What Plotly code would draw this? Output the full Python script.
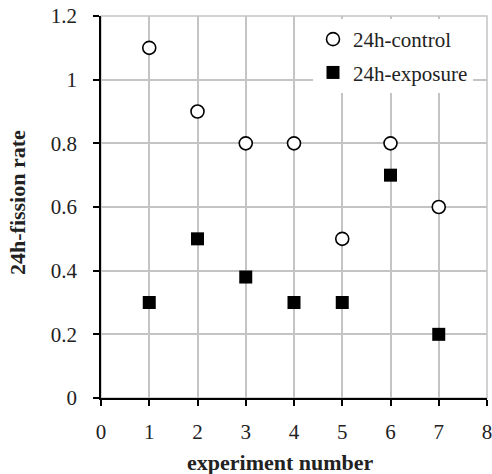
import plotly.graph_objects as go

experiments = [1, 2, 3, 4, 5, 6, 7]
control = [1.1, 0.9, 0.8, 0.8, 0.5, 0.8, 0.6]
exposure = [0.3, 0.5, 0.38, 0.3, 0.3, 0.7, 0.2]
x_ticks = [0, 1, 2, 3, 4, 5, 6, 7, 8]
y_ticks = [0, 0.2, 0.4, 0.6, 0.8, 1.0, 1.2]
y_tick_labels = ["0", "0.2", "0.4", "0.6", "0.8", "1", "1.2"]

FONT = "Liberation Serif, Times New Roman, serif"
GRID = "#c4c4c4"
TXT = "#222222"

L, R, T, B = 101, 5, 16, 76
W, H = 492, 474
PW = W - L - R
PH = H - T - B

fig = go.Figure()
fig.add_trace(go.Scatter(
    x=experiments, y=control, mode="markers", name="24h-control",
    legendgroup="a",
    marker=dict(symbol="circle", size=13, color="white",
                line=dict(color="black", width=1.6)),
))
fig.add_trace(go.Scatter(
    x=experiments, y=exposure, mode="markers", name="24h-exposure",
    legendgroup="b",
    marker=dict(symbol="square", size=13, color="black",
                line=dict(color="black", width=0)),
))

fig.add_shape(type="rect", xref="paper", yref="paper", x0=0, y0=0, x1=1, y1=1,
              line=dict(color=GRID, width=1.5), layer="below")

fig.add_annotation(text="<b>experiment number</b>", xref="paper", yref="paper",
                   x=(280 - L) / PW, y=(-(462 - (H - B))) / PH, xanchor="center", yanchor="middle",
                   showarrow=False, font=dict(family=FONT, size=22, color=TXT))
fig.add_annotation(text="<b>24h-fission rate</b>", xref="paper", yref="paper",
                   x=(17 - L) / PW, y=1 - (203 - T) / PH, xanchor="center", yanchor="middle",
                   textangle=-90, showarrow=False,
                   font=dict(family=FONT, size=22, color=TXT))

fig.update_layout(
    width=W, height=H,
    margin=dict(l=L, r=R, t=T, b=B, autoexpand=False),
    paper_bgcolor="white", plot_bgcolor="white",
    font=dict(family=FONT, size=21, color=TXT),
    showlegend=True,
    legend=dict(x=(313 - L) / PW, y=1 - 3 / PH, xanchor="left", yanchor="top",
                bgcolor="white", borderwidth=0,
                font=dict(family=FONT, size=21, color=TXT),
                tracegroupgap=3, itemwidth=30),
    xaxis=dict(range=[0, 8], tickvals=x_ticks, ticktext=[str(v) for v in x_ticks],
               showgrid=True, gridcolor=GRID, gridwidth=1.5, automargin=False,
               showline=True, linecolor="black", linewidth=1.5,
               ticks="outside", ticklen=6, tickcolor="black", tickwidth=1.5,
               ticklabelstandoff=8, ticklabeloverflow="allow", zeroline=False),
    yaxis=dict(range=[0, 1.2], tickvals=y_ticks, ticktext=y_tick_labels,
               showgrid=True, gridcolor=GRID, gridwidth=1.5, automargin=False,
               showline=True, linecolor="black", linewidth=1.5,
               ticks="outside", ticklen=6, tickcolor="black", tickwidth=1.5,
               ticklabelstandoff=12, ticklabeloverflow="allow", zeroline=False),
)

fig.write_html("out.html", config={"displayModeBar": False},
               post_script="document.body.style.margin='0';document.body.style.overflow='hidden';")
